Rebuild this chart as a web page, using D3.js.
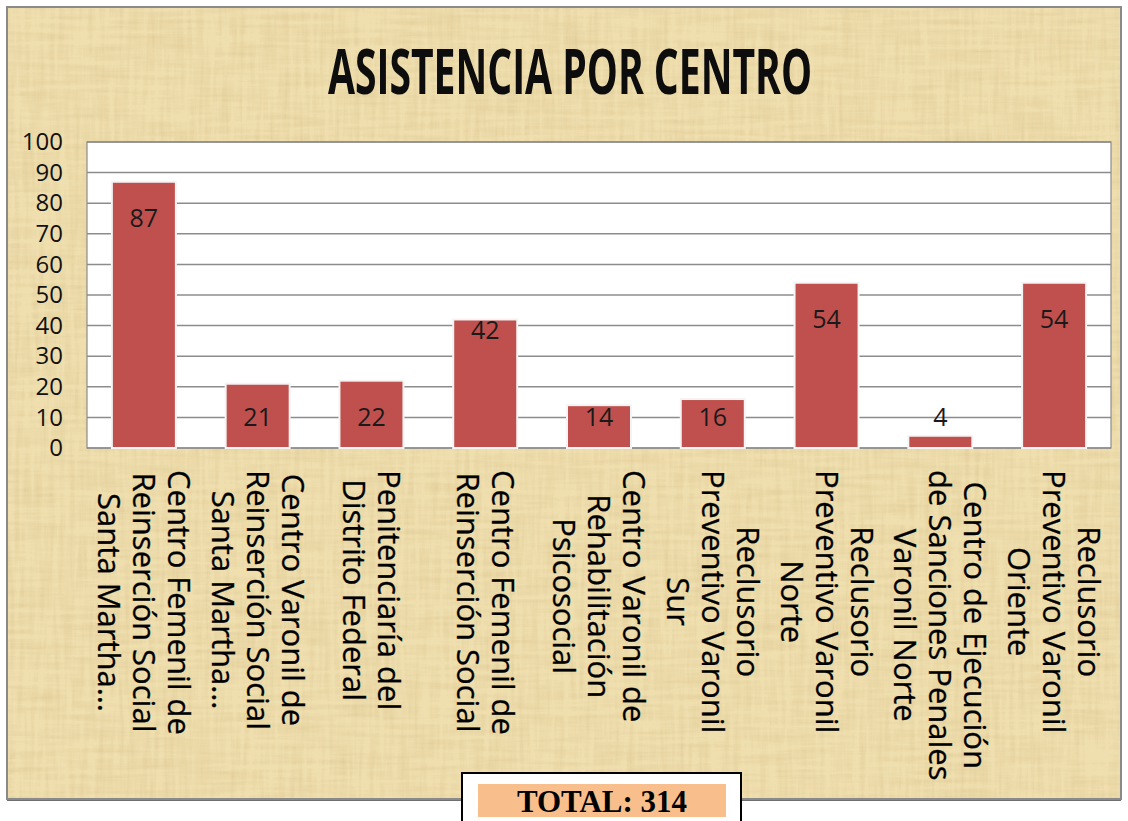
<!DOCTYPE html>
<html>
<head>
<meta charset="utf-8">
<script src="https://cdn.jsdelivr.net/npm/d3@7"></script>
<style>
  html, body { margin: 0; padding: 0; background: #ffffff; }
  svg { display: block; }
</style>
</head>
<body>
<svg id="chart" width="1128" height="821"></svg>
<script>
// ---- data ----
const title = "ASISTENCIA POR CENTRO";
const categories = [
  "Centro Femenil de\nReinserción Social\nSanta Martha…",
  "Centro Varonil de\nReinserción Social\nSanta Martha…",
  "Penitenciaría del\nDistrito Federal",
  "Centro Femenil de\nReinserción Social",
  "Centro Varonil de\nRehabilitación\nPsicosocial",
  "Reclusorio\nPreventivo Varonil\nSur",
  "Reclusorio\nPreventivo Varonil\nNorte",
  "Centro de Ejecución\nde Sanciones Penales\nVaronil Norte",
  "Reclusorio\nPreventivo Varonil\nOriente"
];
const values = [87, 21, 22, 42, 14, 16, 54, 4, 54];
const yTicks = [0, 10, 20, 30, 40, 50, 60, 70, 80, 90, 100];
const totalLabel = "TOTAL: 314";

// ---- drawing ----
const svg = d3.select("#chart");

const defs = svg.append("defs");
const f = defs.append("filter").attr("id", "paper")
  .attr("x", 0).attr("y", 0).attr("width", "100%").attr("height", "100%");
f.append("feTurbulence").attr("type", "fractalNoise")
  .attr("baseFrequency", "0.015 0.2").attr("numOctaves", 3).attr("seed", 4).attr("result", "n1");
f.append("feTurbulence").attr("type", "fractalNoise")
  .attr("baseFrequency", "0.2 0.015").attr("numOctaves", 3).attr("seed", 9).attr("result", "n2");
f.append("feComposite").attr("in", "n1").attr("in2", "n2")
  .attr("operator", "arithmetic").attr("k2", 0.5).attr("k3", 0.5).attr("result", "n3");
f.append("feColorMatrix").attr("in", "n3").attr("type", "matrix")
  .attr("values", "0 0 0 0 0.68  0 0 0 0 0.54  0 0 0 0 0.26  1.8 0 0 0 -0.72");

// parchment frame
const frame = {x: 7, y: 7, w: 1114, h: 792};
svg.append("rect").attr("x", frame.x).attr("y", frame.y + 2).attr("width", frame.w).attr("height", frame.h)
  .attr("fill", "#6f6f6f");
svg.append("rect").attr("x", frame.x).attr("y", frame.y).attr("width", frame.w).attr("height", frame.h)
  .attr("fill", "#efdeae");
svg.append("rect").attr("x", frame.x).attr("y", frame.y).attr("width", frame.w).attr("height", frame.h)
  .attr("fill", "#efdeae").attr("filter", "url(#paper)").attr("opacity", 0.7);
svg.append("rect").attr("x", frame.x).attr("y", frame.y).attr("width", frame.w).attr("height", frame.h)
  .attr("fill", "none").attr("stroke", "#8a8a8a").attr("stroke-width", 2);

// title
svg.append("text")
  .attr("x", 570).attr("y", 94)
  .attr("text-anchor", "middle")
  .attr("font-family", "'Open Sans', sans-serif")
  .attr("font-weight", 700)
  .attr("font-size", 62)
  .attr("textLength", 484)
  .attr("lengthAdjust", "spacingAndGlyphs")
  .attr("fill", "#0d0d0d")
  .text(title);

// scales
const plot = {left: 87, right: 1111, top: 142, bottom: 448};
const x = d3.scaleBand().domain(categories).range([plot.left, plot.right])
  .paddingInner(0.4375).paddingOuter(0.21875);
const y = d3.scaleLinear().domain([0, 100]).range([plot.bottom, plot.top]);

// plot area
svg.append("rect").attr("x", plot.left).attr("y", plot.top)
  .attr("width", plot.right - plot.left).attr("height", plot.bottom - plot.top)
  .attr("fill", "#ffffff");

// gridlines
svg.append("g").selectAll("line").data(yTicks).join("line")
  .attr("x1", plot.left).attr("x2", plot.right)
  .attr("y1", d => y(d)).attr("y2", d => y(d))
  .attr("stroke", "#8c8c8c").attr("stroke-width", 1.5);

svg.append("rect").attr("x", plot.left).attr("y", plot.top)
  .attr("width", plot.right - plot.left).attr("height", plot.bottom - plot.top)
  .attr("fill", "none").attr("stroke", "#8c8c8c").attr("stroke-width", 1.2);

// y axis
const yAxis = d3.axisLeft(y).tickValues(yTicks).tickSize(0).tickPadding(0).tickFormat(d3.format("d"));
const gy = svg.append("g").attr("transform", `translate(${63},0)`).call(yAxis);
gy.select(".domain").remove();
gy.selectAll("text")
  .attr("font-family", "'Open Sans', sans-serif")
  .attr("font-size", 24)
  .attr("fill", "#111");

// bars
svg.append("g").selectAll("rect").data(values).join("rect")
  .attr("x", (d, i) => x(categories[i]))
  .attr("y", d => y(d))
  .attr("width", x.bandwidth())
  .attr("height", d => y(0) - y(d))
  .attr("fill", "#c0504d")
  .attr("stroke", "#f4f4f4").attr("stroke-width", 2);

// value labels
function labelY(v) {
  if (v >= 50) return y(v) + 36;
  if (v >= 30) return y(v) + 11;
  return y(10);
}
svg.append("g").selectAll("text").data(values).join("text")
  .attr("x", (d, i) => x(categories[i]) + x.bandwidth() / 2)
  .attr("y", d => labelY(d))
  .attr("dy", "0.36em")
  .attr("text-anchor", "middle")
  .attr("font-family", "'Open Sans', sans-serif")
  .attr("font-size", 25)
  .attr("fill", "#1a1a1a")
  .text(d => d);

// category labels (rotated, wrapped)
const fontSize = 31, pitch = 35, capHalf = 11, startY = 470;
const labG = svg.append("g");
categories.forEach((c, i) => {
  const lines = c.split("\n");
  const cx = x(c) + x.bandwidth() / 2;
  const g = labG.append("g").attr("transform", `translate(${cx},${startY}) rotate(90)`);
  const texts = lines.map((ln, j) => g.append("text")
    .attr("font-family", "'Open Sans', sans-serif")
    .attr("font-size", fontSize)
    .attr("fill", "#000")
    .attr("stroke", "#000").attr("stroke-width", 0.3)
    .attr("text-anchor", "middle")
    .attr("y", (j - (lines.length - 1) / 2) * pitch + capHalf)
    .text(ln));
  const maxLen = d3.max(texts, t => t.node().getComputedTextLength());
  texts.forEach(t => t.attr("x", maxLen / 2));
});

// total box
const tb = svg.append("g");
tb.append("rect").attr("x", 462).attr("y", 773).attr("width", 279).attr("height", 60)
  .attr("fill", "#ffffff").attr("stroke", "#000").attr("stroke-width", 2);
tb.append("rect").attr("x", 478).attr("y", 784).attr("width", 248).attr("height", 33)
  .attr("fill", "#f8bf8c");
tb.append("text").attr("x", 602).attr("y", 812)
  .attr("text-anchor", "middle")
  .attr("font-family", "'Liberation Serif', 'Times New Roman', serif")
  .attr("font-weight", 700)
  .attr("font-size", 31)
  .attr("fill", "#000")
  .text(totalLabel);
</script>
</body>
</html>
